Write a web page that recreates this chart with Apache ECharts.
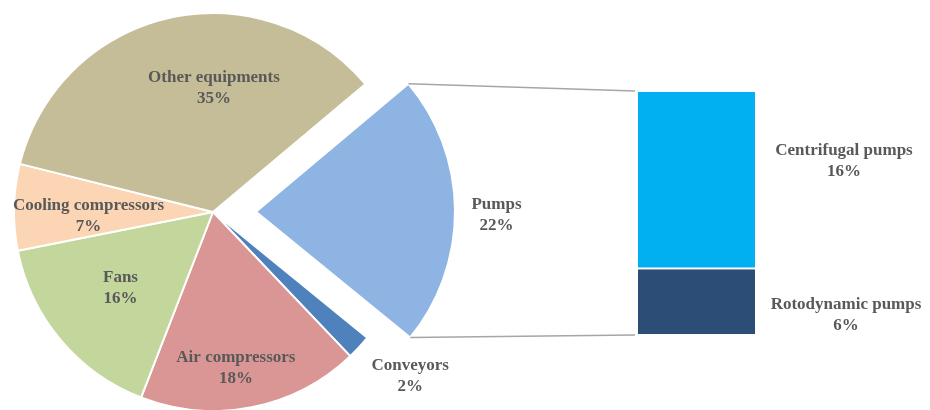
<!DOCTYPE html>
<html><head><meta charset="utf-8">
<script src="https://cdn.jsdelivr.net/npm/echarts@6/dist/echarts.min.js"></script>
<style>html,body{margin:0;padding:0;background:#fff}#c{width:930px;height:410px}</style>
</head><body><div id="c"></div>
<script>
// ---- data ----
var pieNames  = ['Pumps', 'Conveyors', 'Air compressors', 'Fans', 'Cooling compressors', 'Other equipments'];
var pieValues = [22, 2, 18, 16, 7, 35];
var subNames  = ['Rotodynamic pumps', 'Centrifugal pumps'];
var subValues = [6, 16];

// ---- styling / layout ----
var pieColors = ['#8EB4E3', '#4F81BD', '#D99694', '#C3D69B', '#FCD5B5', '#C4BD97'];
var subColors = ['#2C4D75', '#00B0F0'];
var labelOffsets = [[138, 4], [61, 47], [1.5, 28], [-7, 5], [-11, 3.5], [12, -12]];
var subLabelOffsets = [[90, 13], [88, -19]];
var CX = 213, CY = 212, R = 199, START = 40, EXPLODE = 43;
var GRID = {left: 637, top: 91, width: 119, height: 244};
var FONT = {fontFamily: '"Liberation Serif", serif', fontWeight: 'bold', fontSize: 17, color: '#595959', lineHeight: 21};

var total = pieValues.reduce(function(a, b){ return a + b; }, 0);
var subTotal = subValues.reduce(function(a, b){ return a + b; }, 0);

var chart = echarts.init(document.getElementById('c'), null, {renderer: 'canvas'});

var pieData = pieNames.map(function(n, i){
  return {name: n, value: pieValues[i], selected: i === 0, itemStyle: {color: pieColors[i]}};
});

var series = [{
  type: 'pie',
  center: [CX, CY],
  radius: R,
  startAngle: START,
  clockwise: true,
  selectedMode: 'single',
  selectedOffset: EXPLODE,
  avoidLabelOverlap: false,
  animation: false,
  emphasis: {disabled: true},
  select: {itemStyle: {borderColor: '#fff', borderWidth: 2}},
  itemStyle: {borderColor: '#fff', borderWidth: 2},
  label: Object.assign({show: true, position: 'inside', formatter: '{b}\n{c}%', align: 'center'}, FONT),
  labelLine: {show: false},
  labelLayout: function(p){
    var o = labelOffsets[p.dataIndex];
    return {dx: o[0], dy: o[1]};
  },
  data: pieData
}];

subNames.forEach(function(n, i){
  series.push({
    type: 'bar',
    name: n,
    stack: 'pumps',
    barWidth: '100%',
    animation: false,
    emphasis: {disabled: true},
    itemStyle: {color: subColors[i], borderColor: '#fff', borderWidth: 1},
    label: Object.assign({show: true, position: ['100%', '50%'], align: 'center', verticalAlign: 'middle',
      offset: subLabelOffsets[i], formatter: '{a}\n{c}%'}, FONT),
    data: [subValues[i]]
  });
});

chart.setOption({
  backgroundColor: '#fff',
  animation: false,
  tooltip: {show: false},
  grid: {left: GRID.left, top: GRID.top, width: GRID.width, height: GRID.height, containLabel: false},
  xAxis: {type: 'category', data: ['Pumps'], show: false},
  yAxis: {type: 'value', min: 0, max: subTotal, show: false},
  series: series
});

// connector lines from exploded slice edges to bar corners
var a0 = START * Math.PI / 180;
var a1 = (START - 360 * pieValues[0] / total) * Math.PI / 180;
var am = (a0 + a1) / 2;
var ecx = CX + EXPLODE * Math.cos(am), ecy = CY - EXPLODE * Math.sin(am);
var p0 = [ecx + R * Math.cos(a0), ecy - R * Math.sin(a0)];
var p1 = [ecx + R * Math.cos(a1), ecy - R * Math.sin(a1)];
var yTop = chart.convertToPixel({yAxisIndex: 0}, subTotal);
var yBot = chart.convertToPixel({yAxisIndex: 0}, 0);
chart.setOption({
  graphic: [
    {type: 'line', shape: {x1: p0[0], y1: p0[1], x2: GRID.left - 2, y2: yTop}, style: {stroke: '#A6A6A6', lineWidth: 1.5}, z: 10},
    {type: 'line', shape: {x1: p1[0], y1: p1[1], x2: GRID.left - 2, y2: yBot}, style: {stroke: '#A6A6A6', lineWidth: 1.5}, z: 10}
  ]
});
</script>
</body></html>
